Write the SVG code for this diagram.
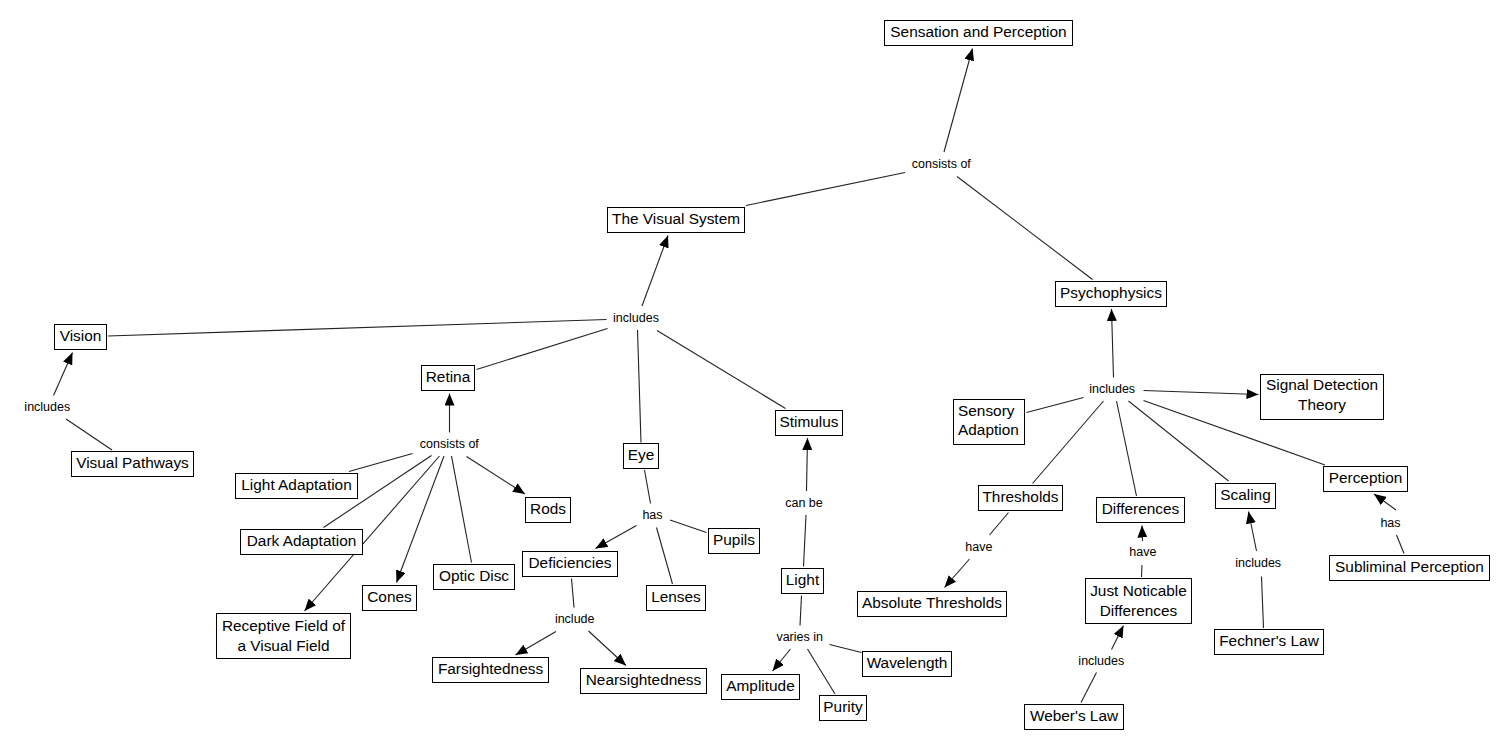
<svg xmlns="http://www.w3.org/2000/svg" width="1498" height="749" viewBox="0 0 1498 749">
<style>
.n rect{fill:#fff;stroke:#000;stroke-width:1}
.n text{font-family:"Liberation Sans",Arial,sans-serif;font-size:15.4px;fill:#000;text-anchor:middle}
.l{font-family:"Liberation Sans",Arial,sans-serif;font-size:12.5px;fill:#000;text-anchor:middle}
#edges line{stroke:#222;stroke-width:1.1;fill:none}
#edges line.a{marker-end:url(#arr)}
</style>
<defs>
<marker id="arr" viewBox="0 0 12 10" refX="12" refY="5" markerWidth="12" markerHeight="10" orient="auto" markerUnits="userSpaceOnUse">
<path d="M0,0 L12,5 L0,10 Z" fill="#000"/>
</marker>
</defs>
<rect width="1498" height="749" fill="#fff"/>
<g id="edges">
<line class="a" x1="944" y1="152" x2="972.5" y2="48.5"/>
<line x1="905" y1="172.5" x2="746" y2="205.5"/>
<line x1="957" y1="176.5" x2="1092.5" y2="279.5"/>
<line class="a" x1="642" y1="306" x2="668" y2="235.5"/>
<line x1="606.5" y1="319.5" x2="108" y2="336"/>
<line x1="607.5" y1="328.5" x2="476.5" y2="369.5"/>
<line x1="637.5" y1="330" x2="641" y2="442.5"/>
<line x1="657" y1="330.5" x2="785.5" y2="408.5"/>
<line class="a" x1="53.5" y1="395.5" x2="72.5" y2="352.5"/>
<line x1="66" y1="419" x2="112" y2="450"/>
<line class="a" x1="449.5" y1="432.5" x2="449.5" y2="393.5"/>
<line x1="349" y1="471.5" x2="412.5" y2="453.5"/>
<line x1="323.5" y1="527.5" x2="431.5" y2="455.5"/>
<line class="a" x1="439.5" y1="456" x2="304.5" y2="611"/>
<line class="a" x1="444" y1="456" x2="396.5" y2="582.5"/>
<line x1="451.5" y1="456" x2="471.5" y2="562.5"/>
<line class="a" x1="466.5" y1="456.5" x2="525" y2="494"/>
<line x1="644.5" y1="470" x2="650.5" y2="503.5"/>
<line x1="670" y1="520" x2="706.5" y2="532.5"/>
<line x1="656.5" y1="527.5" x2="672.5" y2="584"/>
<line class="a" x1="636.5" y1="525.5" x2="595.5" y2="548.5"/>
<line x1="571.5" y1="578.5" x2="574" y2="607.5"/>
<line class="a" x1="556" y1="631.5" x2="515.5" y2="655"/>
<line class="a" x1="588.5" y1="631" x2="626" y2="665.5"/>
<line class="a" x1="806.5" y1="491" x2="807.5" y2="438"/>
<line x1="803.5" y1="566.5" x2="806" y2="515"/>
<line x1="801.5" y1="595.5" x2="800" y2="625.5"/>
<line class="a" x1="790.5" y1="649" x2="772.5" y2="671"/>
<line x1="807.5" y1="649" x2="835" y2="694"/>
<line x1="829.5" y1="644.5" x2="861.5" y2="652.5"/>
<line class="a" x1="1113.5" y1="377.5" x2="1111.5" y2="309"/>
<line x1="1026.5" y1="412.5" x2="1083.5" y2="397.5"/>
<line x1="1032.5" y1="483.5" x2="1103.5" y2="401"/>
<line x1="1116.5" y1="401" x2="1136.5" y2="496"/>
<line x1="1128.5" y1="401" x2="1228.5" y2="481"/>
<line x1="1143.5" y1="400.5" x2="1325" y2="465"/>
<line class="a" x1="1143.5" y1="390.5" x2="1258.5" y2="394.5"/>
<line class="a" x1="1396" y1="510" x2="1374" y2="494"/>
<line x1="1396.5" y1="535" x2="1404" y2="553.5"/>
<line class="a" x1="1256.5" y1="551" x2="1248.5" y2="511.5"/>
<line x1="1261.5" y1="576.5" x2="1263.5" y2="628"/>
<line x1="1008.5" y1="512.5" x2="989.5" y2="535"/>
<line class="a" x1="969.5" y1="559" x2="944.5" y2="587.5"/>
<line class="a" x1="1142.5" y1="541" x2="1142" y2="525.5"/>
<line x1="1142" y1="565" x2="1141.5" y2="577"/>
<line class="a" x1="1111.5" y1="649.5" x2="1123.5" y2="625.5"/>
<line x1="1096.5" y1="672.5" x2="1081" y2="702.5"/>
</g>
<g id="labels">
<text class="l" x="941.3" y="168">consists of</text>
<text class="l" x="636" y="321.5">includes</text>
<text class="l" x="47.3" y="410.5">includes</text>
<text class="l" x="449.3" y="448">consists of</text>
<text class="l" x="652.5" y="518.5">has</text>
<text class="l" x="574.7" y="622.5">include</text>
<text class="l" x="804" y="506.5">can be</text>
<text class="l" x="799.7" y="640.5">varies in</text>
<text class="l" x="1112.2" y="392.5">includes</text>
<text class="l" x="978.8" y="550.5">have</text>
<text class="l" x="1142.8" y="555.5">have</text>
<text class="l" x="1101.3" y="665">includes</text>
<text class="l" x="1258.2" y="566.5">includes</text>
<text class="l" x="1390.5" y="526.5">has</text>
</g>
<g id="sensation" class="n"><rect x="884.5" y="20.5" width="188" height="25"/><text x="978.5" y="37">Sensation and Perception</text></g>
<g id="visual-system" class="n"><rect x="607.5" y="207.5" width="137" height="25"/><text x="676" y="224">The Visual System</text></g>
<g id="psychophysics" class="n"><rect x="1055.5" y="281.5" width="111" height="25"/><text x="1111" y="298">Psychophysics</text></g>
<g id="vision" class="n"><rect x="54.5" y="324.5" width="52" height="25"/><text x="80.5" y="341">Vision</text></g>
<g id="visual-pathways" class="n"><rect x="71.5" y="451.5" width="122" height="25"/><text x="132.5" y="468">Visual Pathways</text></g>
<g id="retina" class="n"><rect x="421.5" y="365.5" width="53" height="25"/><text x="448" y="382">Retina</text></g>
<g id="light-adaptation" class="n"><rect x="235.5" y="473.5" width="122" height="25"/><text x="296.5" y="490">Light Adaptation</text></g>
<g id="dark-adaptation" class="n"><rect x="240.5" y="529.5" width="122" height="25"/><text x="301.5" y="546">Dark Adaptation</text></g>
<g id="receptive" class="n"><rect x="216.5" y="613.5" width="134" height="45"/><text x="283.5" y="631">Receptive Field of</text><text x="283.5" y="650.5">a Visual Field</text></g>
<g id="cones" class="n"><rect x="362.5" y="585.5" width="54" height="25"/><text x="389.5" y="602">Cones</text></g>
<g id="optic-disc" class="n"><rect x="433.5" y="564.5" width="81" height="25"/><text x="474" y="581">Optic Disc</text></g>
<g id="rods" class="n"><rect x="525.5" y="497.5" width="45" height="25"/><text x="548" y="514">Rods</text></g>
<g id="eye" class="n"><rect x="623.5" y="443.5" width="35" height="25"/><text x="641" y="460">Eye</text></g>
<g id="pupils" class="n"><rect x="708.5" y="528.5" width="51" height="25"/><text x="734" y="545">Pupils</text></g>
<g id="lenses" class="n"><rect x="646.5" y="585.5" width="59" height="25"/><text x="676" y="602">Lenses</text></g>
<g id="deficiencies" class="n"><rect x="522.5" y="551.5" width="95" height="25"/><text x="570" y="568">Deficiencies</text></g>
<g id="farsightedness" class="n"><rect x="432.5" y="657.5" width="116" height="25"/><text x="490.5" y="674">Farsightedness</text></g>
<g id="nearsightedness" class="n"><rect x="580.5" y="668.5" width="126" height="25"/><text x="643.5" y="685">Nearsightedness</text></g>
<g id="stimulus" class="n"><rect x="775.5" y="410.5" width="67" height="25"/><text x="809" y="427">Stimulus</text></g>
<g id="light" class="n"><rect x="781.5" y="568.5" width="42" height="25"/><text x="802.5" y="585">Light</text></g>
<g id="amplitude" class="n"><rect x="721.5" y="674.5" width="78" height="25"/><text x="760.5" y="691">Amplitude</text></g>
<g id="purity" class="n"><rect x="819.5" y="695.5" width="47" height="25"/><text x="843" y="712">Purity</text></g>
<g id="wavelength" class="n"><rect x="862.5" y="651.5" width="89" height="25"/><text x="907" y="668">Wavelength</text></g>
<g id="sensory-adaption" class="n"><rect x="953.5" y="399.5" width="71" height="45"/><text x="958" y="415.5" style="text-anchor:start">Sensory</text><text x="958" y="435" style="text-anchor:start">Adaption</text></g>
<g id="signal-detection" class="n"><rect x="1260.5" y="374.5" width="123" height="45"/><text x="1322" y="390">Signal Detection</text><text x="1322" y="409.5">Theory</text></g>
<g id="thresholds" class="n"><rect x="978.5" y="485.5" width="84" height="25"/><text x="1020.5" y="502">Thresholds</text></g>
<g id="differences" class="n"><rect x="1096.5" y="497.5" width="88" height="25"/><text x="1140.5" y="514">Differences</text></g>
<g id="scaling" class="n"><rect x="1215.5" y="483.5" width="60" height="25"/><text x="1245.5" y="500">Scaling</text></g>
<g id="perception" class="n"><rect x="1323.5" y="466.5" width="84" height="25"/><text x="1365.5" y="483">Perception</text></g>
<g id="subliminal" class="n"><rect x="1329.5" y="555.5" width="160" height="25"/><text x="1409.5" y="572">Subliminal Perception</text></g>
<g id="absolute-thresholds" class="n"><rect x="857.5" y="591.5" width="149" height="25"/><text x="932" y="608">Absolute Thresholds</text></g>
<g id="jnd" class="n"><rect x="1085.5" y="578.5" width="106" height="45"/><text x="1138.5" y="596">Just Noticable</text><text x="1138.5" y="615.5">Differences</text></g>
<g id="webers-law" class="n"><rect x="1024.5" y="704.5" width="99" height="25"/><text x="1074" y="721">Weber's Law</text></g>
<g id="fechners-law" class="n"><rect x="1214.5" y="629.5" width="109" height="25"/><text x="1269" y="646">Fechner's Law</text></g>
</svg>
